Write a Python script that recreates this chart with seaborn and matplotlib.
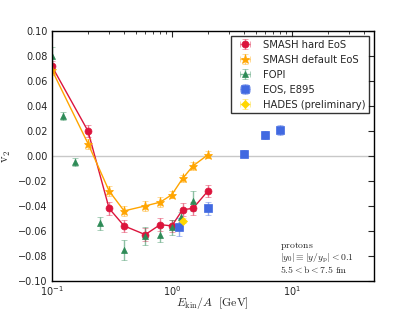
import matplotlib
matplotlib.use("Agg")
import matplotlib.pyplot as plt
import numpy as np
import pandas as pd
import seaborn as sns

# SMASH hard EoS
hard_e = [0.1, 0.2, 0.3, 0.4, 0.6, 0.8, 1.0, 1.23, 1.5, 2.0]
hard_v2 = [0.072, 0.020, -0.042, -0.056, -0.063, -0.055, -0.056, -0.043, -0.042, -0.028]
hard_err = [0.004, 0.005, 0.005, 0.005, 0.005, 0.005, 0.005, 0.005, 0.005, 0.005]

# SMASH default EoS
def_e = [0.1, 0.2, 0.3, 0.4, 0.6, 0.8, 1.0, 1.23, 1.5, 2.0]
def_v2 = [0.069, 0.010, -0.028, -0.044, -0.040, -0.037, -0.031, -0.018, -0.008, 0.001]
def_err = [0.004, 0.004, 0.004, 0.004, 0.004, 0.004, 0.003, 0.003, 0.003, 0.003]

# FOPI
fopi_e = [0.1, 0.123, 0.155, 0.25, 0.4, 0.6, 0.8, 1.0, 1.2, 1.5]
fopi_v2 = [0.080, 0.032, -0.005, -0.054, -0.075, -0.064, -0.063, -0.057, -0.049, -0.036]
fopi_err = [0.007, 0.003, 0.003, 0.005, 0.008, 0.007, 0.006, 0.006, 0.004, 0.008]

# EOS, E895
eos_e = [1.15, 2.0, 4.0, 6.0, 8.0]
eos_v2 = [-0.057, -0.042, 0.002, 0.017, 0.021]
eos_err = [0.007, 0.005, 0.003, 0.003, 0.004]

# HADES (preliminary)
hades_e = [1.23]
hades_v2 = [-0.052]
hades_err = [0.002]

sns.set_style("white")
plt.rcParams.update({
    "font.family": ["DejaVu Sans"],
    "font.size": 7,
    "xtick.direction": "in",
    "ytick.direction": "in",
    "xtick.top": True,
    "ytick.right": True,
    "xtick.major.size": 4,
    "ytick.major.size": 4,
    "xtick.minor.size": 2,
    "xtick.minor.visible": True,
    "xtick.major.pad": 2.5,
    "ytick.major.pad": 3,
    "axes.edgecolor": "black",
    "axes.linewidth": 1.0,
})

fig, ax = plt.subplots(figsize=(4.15, 3.12), dpi=100)
fig.subplots_adjust(left=0.125, right=0.9, bottom=0.1, top=0.9)

ax.axhline(0, color="#c8c8c8", lw=1.0, zorder=0)

hard = pd.DataFrame({"e": hard_e, "v2": hard_v2})
default = pd.DataFrame({"e": def_e, "v2": def_v2})
sns.lineplot(data=hard, x="e", y="v2", color="crimson", lw=1.0, ax=ax, legend=False)
sns.lineplot(data=default, x="e", y="v2", color="orange", lw=1.0, ax=ax, legend=False)

ekw = dict(capsize=2.0, elinewidth=1.0, capthick=1.0, ls="none")
series = [
    (hard_e, hard_v2, hard_err, "crimson", "o", 5, "SMASH hard EoS"),
    (def_e, def_v2, def_err, "orange", "*", 6.5, "SMASH default EoS"),
    (fopi_e, fopi_v2, fopi_err, "seagreen", "^", 5, "FOPI"),
    (eos_e, eos_v2, eos_err, "royalblue", "s", 5.5, "EOS, E895"),
    (hades_e, hades_v2, hades_err, "gold", "D", 4.5, "HADES (preliminary)"),
]
for x, y, err, c, m, ms, lab in series:
    eb = ax.errorbar(x, y, yerr=err, xerr=np.zeros(len(x)), color=c, marker=m,
                     ms=ms, mec=c, mew=0.5, label=lab, **ekw)
    for bar in eb[2]:
        bar.set_alpha(0.55)
    for cap in eb[1]:
        cap.set_alpha(0.55)

ax.set_xscale("log")
ax.set_xlim(0.1, 48)
ax.set_ylim(-0.1, 0.1)
yt = np.arange(-0.1, 0.101, 0.02)
ax.set_yticks(yt)
ax.set_yticklabels([f"{v:.2f}".replace("-", "\u2212") for v in yt])

ax.set_xlabel(r"$E_{\rm kin}/A\ \ [\mathrm{GeV}]$", fontsize=8.5, math_fontfamily="cm", labelpad=-2)
ax.set_ylabel(r"$\mathrm{v}_2$", fontsize=9, math_fontfamily="cm", labelpad=4)

ax.text(8.0, -0.074, r"$\mathrm{protons}$", fontsize=7, math_fontfamily="cm", va="baseline")
ax.text(8.0, -0.084, r"$|y_0|\equiv|y/y_{\rm p}|<0.1$", fontsize=7, math_fontfamily="cm", va="baseline")
ax.text(8.0, -0.094, r"$5.5<\mathrm{b}<7.5\ \mathrm{fm}$", fontsize=7, math_fontfamily="cm", va="baseline")

leg = ax.legend(loc="upper right", numpoints=1, fontsize=7.2, frameon=True, fancybox=False,
                borderpad=0.35, labelspacing=0.5, handlelength=2.0, handletextpad=0.8)
leg.get_frame().set_edgecolor("black")
leg.get_frame().set_linewidth(1.0)

fig.savefig("out.png", dpi=100)
